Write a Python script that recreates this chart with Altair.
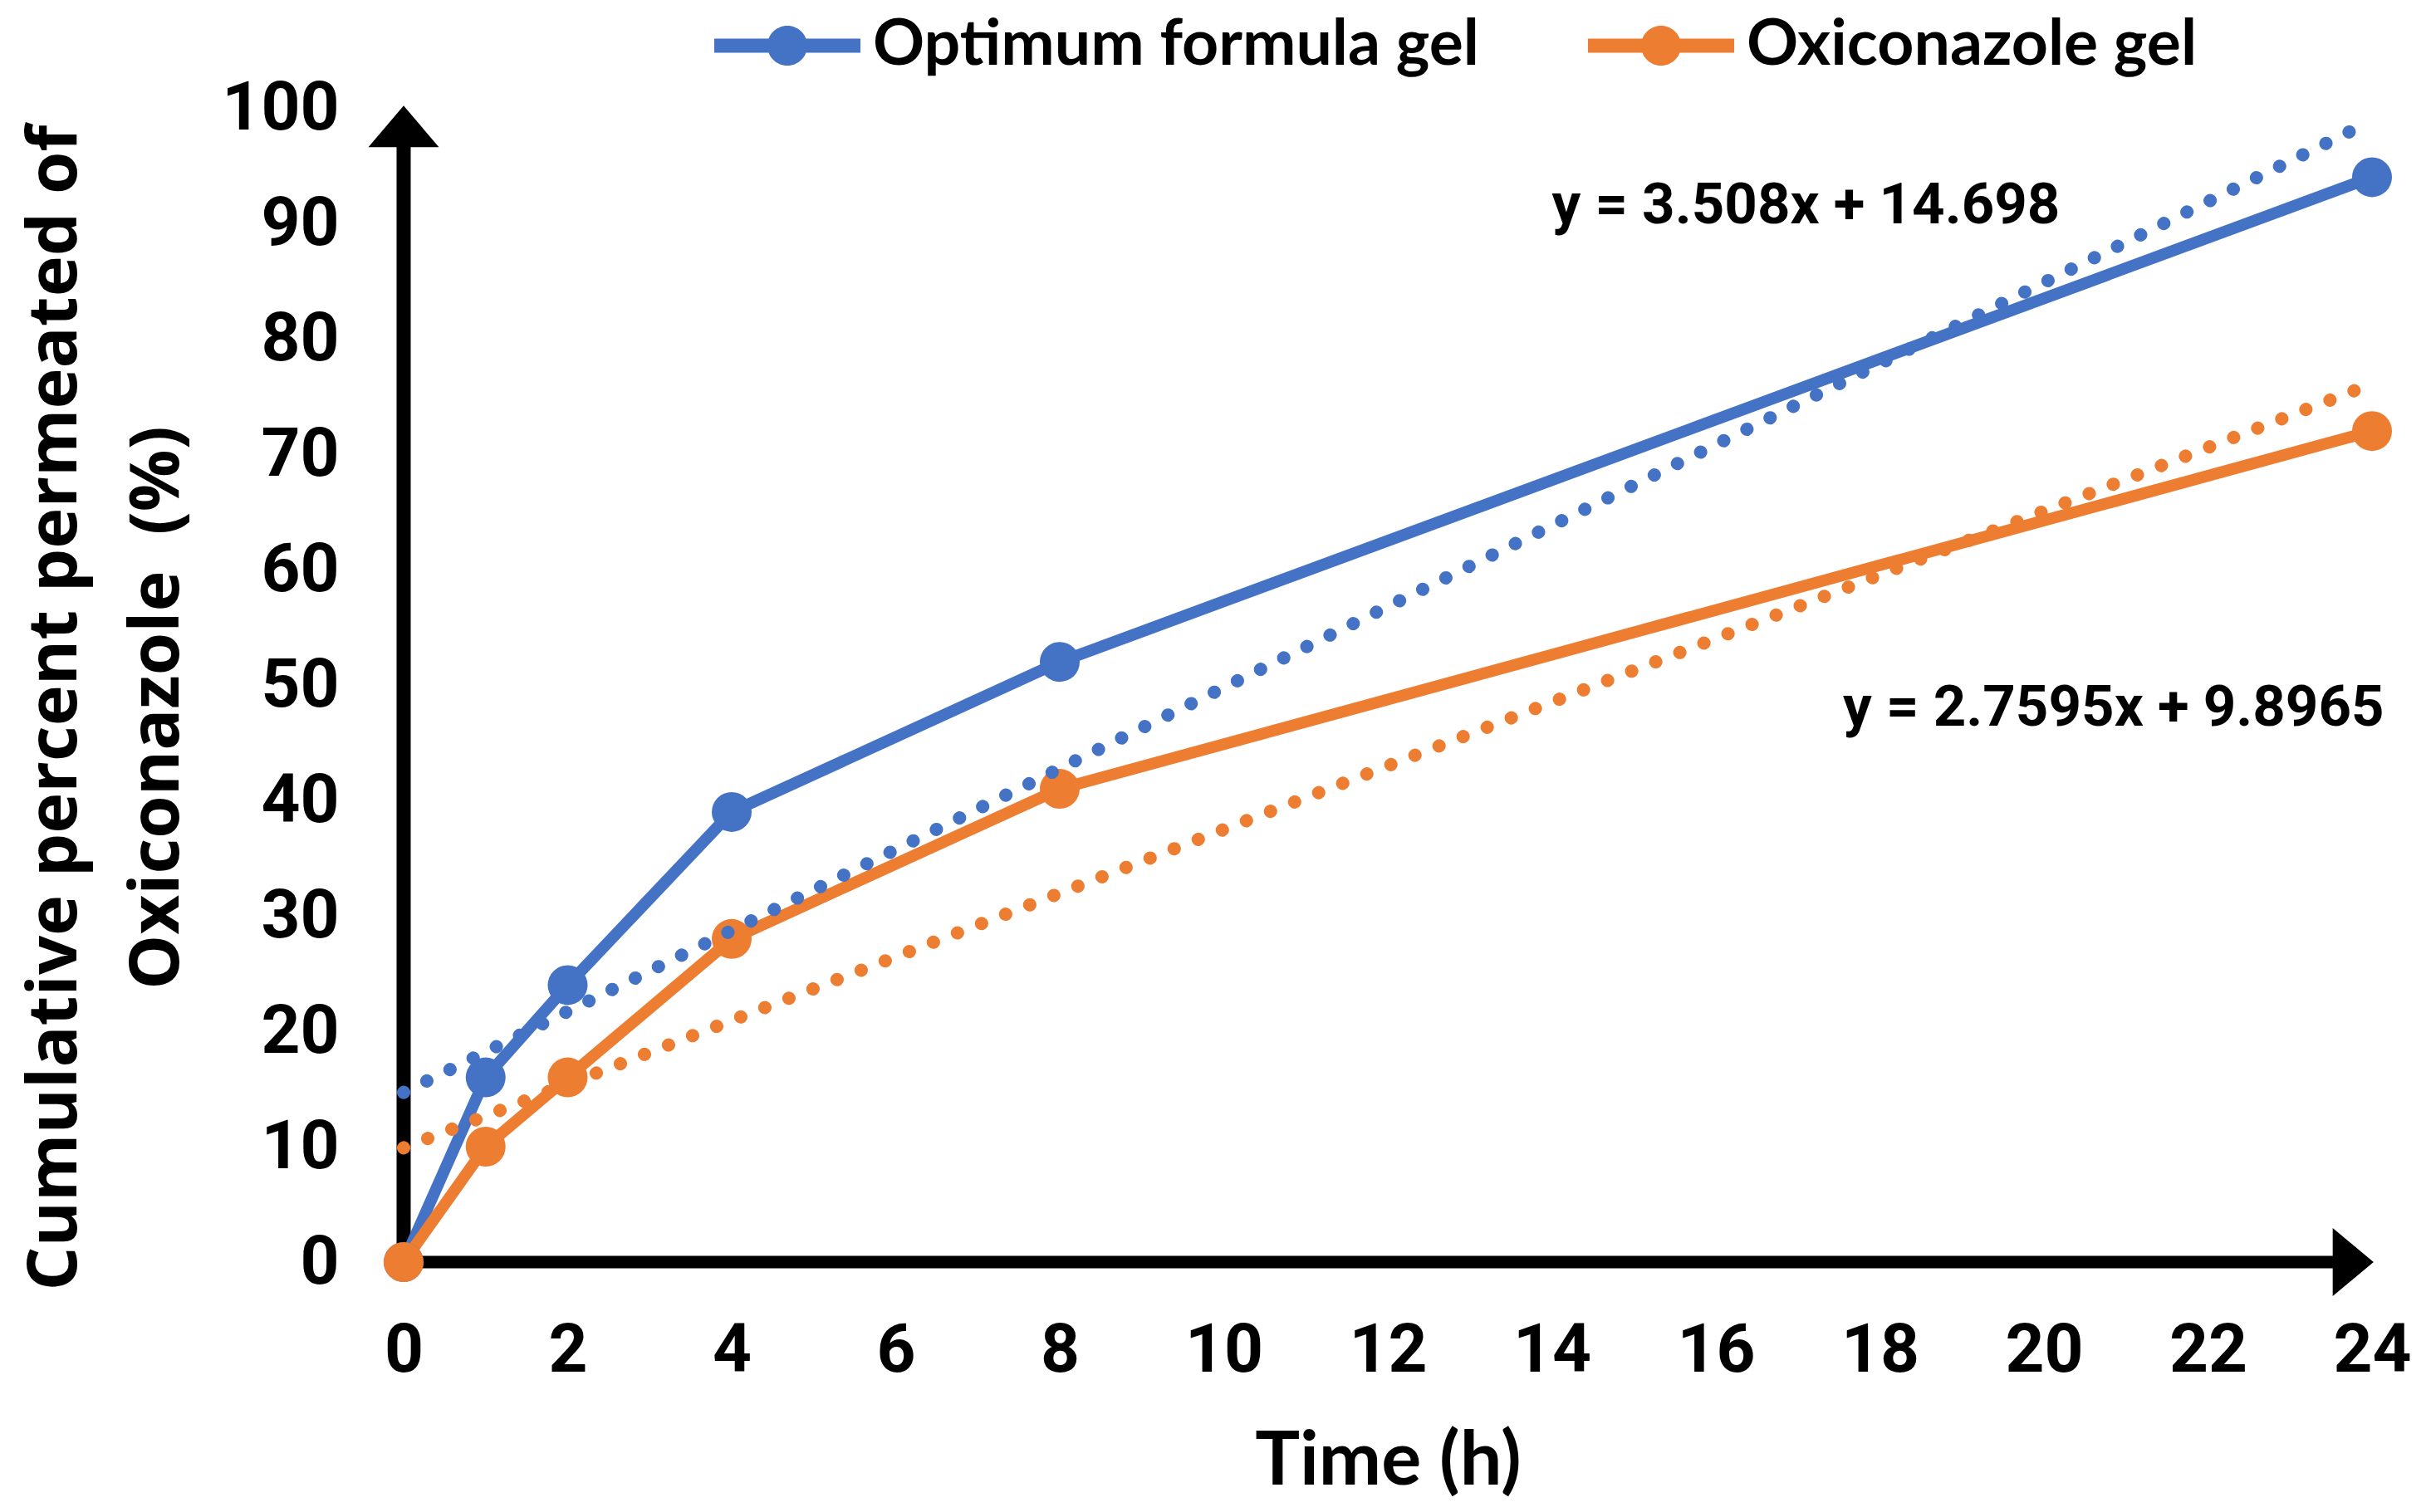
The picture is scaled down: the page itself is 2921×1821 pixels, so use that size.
import altair as alt
import pandas as pd

# ---- data ----
series_names = ["Optimum formula gel", "Oxiconazole gel"]
colors = ["#4472C4", "#ED7D31"]
time_h = [0, 1, 2, 4, 8, 24]
optimum_vals = [0, 16, 24, 39, 52, 94]
oxi_vals = [0, 10, 16, 28, 41, 72]

# linear trendlines (endpoints at t=0 and t=24)
trend_x = [0, 24]
trend_optimum = [14.7, 98.9]
trend_oxi = [9.9, 76.1]

eq_texts = ["y = 3.508x + 14.698", "y = 2.7595x + 9.8965"]
eq_x = [14.0, 17.55]
eq_y = [90.0, 46.5]

x_ticks = list(range(0, 25, 2))
y_ticks = list(range(0, 101, 10))

# axis arrows (data positions)
axis_y_top = 96.6
axis_x_right = 23.52
arrow_x = [0, 23.77]
arrow_y = [98.4, 0]

# ---- tables ----
rows = []
for name, vals in zip(series_names, [optimum_vals, oxi_vals]):
    for t, v in zip(time_h, vals):
        rows.append({"series": name, "t": t, "v": v})
df = pd.DataFrame(rows)

trows = []
for name, vals in zip(series_names, [trend_optimum, trend_oxi]):
    for t, v in zip(trend_x, vals):
        trows.append({"series": name, "t": t, "v": v})
dft = pd.DataFrame(trows)

df_eq = pd.DataFrame({"label": eq_texts, "t": eq_x, "v": eq_y})
df_yaxis = pd.DataFrame({"t": [0], "v": [0], "v2": [axis_y_top]})
df_xaxis = pd.DataFrame({"t": [0], "t2": [axis_x_right], "v": [0]})
df_arrow_up = pd.DataFrame({"t": [arrow_x[0]], "v": [arrow_y[0]]})
df_arrow_right = pd.DataFrame({"t": [arrow_x[1]], "v": [arrow_y[1]]})

TICK_FONT = "Roboto"

xscale = alt.Scale(domain=[0, 24], nice=False, zero=False)
yscale = alt.Scale(domain=[0, 100], nice=False)
cscale = alt.Scale(domain=series_names, range=colors)

x_axis = alt.Axis(
    values=x_ticks, format="d", domain=False, ticks=False, tickSize=0, grid=False,
    labelFont=TICK_FONT, labelFontSize=82, labelFontWeight="bold", labelColor="black",
    labelPadding=66, labelFlush=False, labelOverlap=False, labelBaseline="top",
    labelLimit=1000,
    title="Time (h)", titleFont="Lato", titleFontSize=90, titleFontWeight="bold",
    titleColor="black", titleX=1185, titleY=267, titleAlign="center",
    titleBaseline="alphabetic", titleAnchor="start",
)
y_axis = alt.Axis(
    values=y_ticks, format="d", domain=False, ticks=False, tickSize=0, grid=False,
    labelFont=TICK_FONT, labelFontSize=82, labelFontWeight="bold", labelColor="black",
    labelPadding=78, labelFlush=False, labelOverlap=False, labelLimit=1000,
    title=["Cumulative percent permeated of", "Oxiconazole\u00a0 (%)"],
    titleFont="Open Sans", titleFontSize=83, titleFontWeight="bold", titleColor="black",
    titleAngle=270, titleAlign="center", titleBaseline="middle", titleLineHeight=123,
    titleX=-420, titleY=722, titleAnchor="start",
)

X = alt.X("t:Q", scale=xscale, axis=x_axis)
Y = alt.Y("v:Q", scale=yscale, axis=y_axis)

legend_path = ("M-1,-0.097H1V0.097H-1Z "
               "M0.273,0A0.273,0.273,0,1,1,-0.273,0A0.273,0.273,0,1,1,0.273,0Z")

legend = alt.Legend(
    title=None, orient="none", legendX=374, legendY=-163, direction="horizontal",
    columns=2, symbolType=legend_path, symbolSize=30976, symbolStrokeWidth=0,
    symbolOpacity=1, labelFont="Lato", labelFontSize=77, labelFontWeight="bold",
    labelColor="black", labelOffset=15, columnPadding=131, padding=0, labelLimit=3000,
)

color_enc = alt.Color("series:N", scale=cscale, legend=legend)

yaxis_rule = alt.Chart(df_yaxis).mark_rule(color="black", strokeWidth=17, strokeCap="square").encode(
    x=X, y=Y, y2="v2:Q")
xaxis_rule = alt.Chart(df_xaxis).mark_rule(color="black", strokeWidth=15, strokeCap="square").encode(
    x=alt.X("t:Q", scale=xscale), x2="t2:Q", y=alt.Y("v:Q", scale=yscale))

arrow_up = alt.Chart(df_arrow_up).mark_point(
    shape="M0,-0.59L1,0.59L-1,0.59Z", size=7225, filled=True, color="black", opacity=1, strokeWidth=0
).encode(x=alt.X("t:Q", scale=xscale), y=alt.Y("v:Q", scale=yscale))
arrow_right = alt.Chart(df_arrow_right).mark_point(
    shape="M0.6,0L-0.6,-1L-0.6,1Z", size=6724, filled=True, color="black", opacity=1, strokeWidth=0
).encode(x=alt.X("t:Q", scale=xscale), y=alt.Y("v:Q", scale=yscale))

lines = alt.Chart(df).mark_line(strokeWidth=14).encode(
    x=alt.X("t:Q", scale=xscale), y=alt.Y("v:Q", scale=yscale),
    color=color_enc,
    detail="series:N",
)
points = alt.Chart(df).mark_point(filled=True, size=2304, opacity=1, strokeWidth=0).encode(
    x=alt.X("t:Q", scale=xscale), y=alt.Y("v:Q", scale=yscale),
    color=color_enc,
)
trends = alt.Chart(dft).mark_line(strokeWidth=16, strokeDash=[0.1, 31], strokeCap="round").encode(
    x=alt.X("t:Q", scale=xscale), y=alt.Y("v:Q", scale=yscale),
    color=color_enc,
    detail="series:N",
)
eqs = alt.Chart(df_eq).mark_text(
    align="left", baseline="alphabetic", font=TICK_FONT, fontSize=69, fontWeight="bold", color="black"
).encode(x=alt.X("t:Q", scale=xscale), y=alt.Y("v:Q", scale=yscale), text="label:N")

chart = alt.layer(
    yaxis_rule, xaxis_rule, arrow_up, arrow_right, lines, points, trends, eqs
).properties(
    width=2370, height=1390,
    autosize=alt.AutoSizeParams(type="none"),
    padding={"left": 478, "top": 122, "right": 55, "bottom": 290},
    background="white",
).configure_view(strokeWidth=0)

chart.save("out.html", embed_options={"renderer": "svg", "actions": False})
